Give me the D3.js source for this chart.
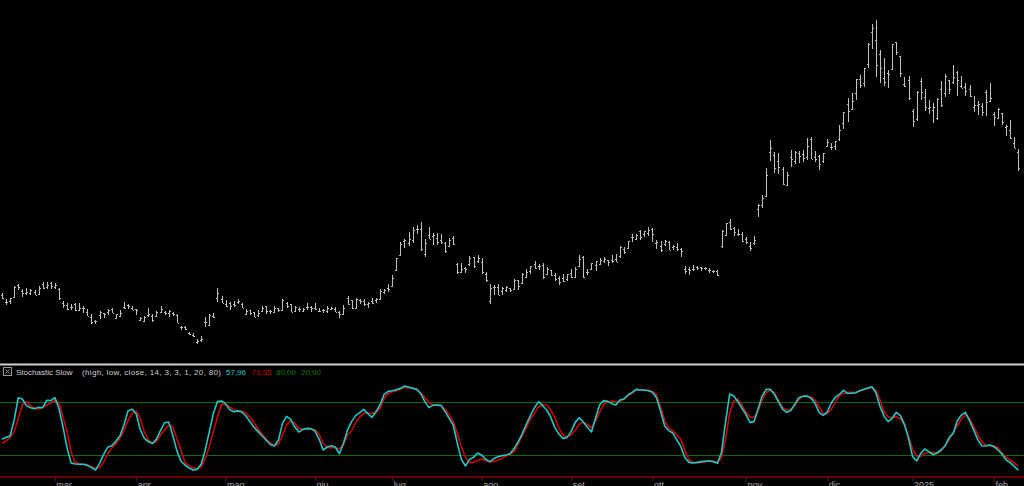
<!DOCTYPE html>
<html><head><meta charset="utf-8">
<script src="https://cdn.jsdelivr.net/npm/d3@7"></script>
<style>html,body{margin:0;padding:0;background:#000;overflow:hidden}svg{display:block}</style>
</head><body><svg id="c" width="1024" height="486"></svg>
<script>
// ---- categories: trading days ----
const firstDay = "2024-02-12", lastDay = "2025-02-11";
const holidays = ["2024-02-19","2024-03-29","2024-05-27","2024-06-19","2024-07-04","2024-09-02","2024-11-28","2024-12-25","2025-01-01","2025-01-09","2025-01-20"];
const monthNamesIt = ["gen","feb","mar","apr","mag","giu","lug","ago","set","ott","nov","dic"];

// ---- OHLC series ----
const openP = [192.1,184.0,185.3,189.2,202.1,196.1,193.4,194.0,195.3,192.3,204.0,200.4,204.2,
200.5,198.7,183.1,181.1,179.0,181.5,175.5,177.8,173.1,167.8,163.2,170.0,172.4,173.0,176.4,166.7,168.8,178.6,181.4,177.5,
176.2,164.8,164.0,170.3,169.1,169.3,172.9,173.0,172.6,172.3,170.2,156.7,157.6,151.2,149.0,140.6,143.3,162.8,159.0,168.9,188.4,187.0,
182.0,182.9,182.1,183.8,182.4,171.6,175.0,173.1,170.0,174.5,179.9,174.1,173.6,177.6,175.5,182.9,181.8,174.8,176.4,174.2,178.6,178.5,
178.1,174.8,175.4,174.6,176.1,176.1,173.9,171.1,188.4,185.8,177.9,186.6,184.7,182.3,185.0,186.5,186.9,195.2,199.6,
201.0,218.9,234.6,249.8,247.7,251.0,262.8,263.3,235.8,256.0,255.3,252.7,251.1,247.8,244.2,253.6,225.4,216.8,221.2,224.9,232.3,227.9,
227.7,214.9,185.2,200.8,200.8,195.7,197.1,199.0,198.5,207.4,205.0,211.2,217.1,224.9,222.7,223.8,214.5,218.8,213.3,209.7,209.8,208.6,
215.3,210.6,223.5,232.6,216.2,220.1,224.6,224.7,228.0,229.3,229.5,230.1,234.0,241.5,242.6,254.1,252.5,260.6,257.4,259.0,
262.7,247.6,244.5,246.7,249.0,243.6,243.8,241.8,220.1,220.1,220.0,221.4,221.6,220.7,218.9,217.3,217.1,244.7,256.0,270.0,264.5,258.0,258.0,
252.0,244.6,247.3,284.7,288.9,299.1,346.3,342.7,335.9,327.7,310.6,340.7,335.8,345.0,343.8,341.1,360.1,341.0,341.8,336.1,
352.4,351.8,353.0,359.9,377.4,397.6,392.7,409.7,424.8,420.0,441.1,475.9,466.5,451.9,425.5,431.0,435.9,465.2,449.5,419.4,423.8,
390.1,381.5,423.2,405.8,393.0,391.4,383.2,414.3,409.9,423.5,421.5,432.6,416.8,416.1,414.5,394.8,396.9,395.2,410.8,401.5,
386.7,382.6,388.0,373.0,370.2,356.2,345.8];
const highP = [194.1,187.3,188.9,200.9,203.2,198.2,199.4,198.3,197.6,201.8,205.6,205.3,205.3,
204.5,199.8,184.7,183.0,181.6,182.7,182.9,179.4,176.1,171.2,165.2,174.7,172.8,176.2,178.2,171.2,175.2,184.2,181.9,179.6,
176.8,167.7,168.8,177.2,170.9,174.5,179.8,174.9,175.9,173.8,170.7,158.2,158.3,152.2,150.9,144.4,147.3,168.0,170.9,172.1,198.9,191.0,
185.9,184.6,184.8,187.6,183.3,176.1,175.6,173.1,175.4,179.5,179.9,175.8,179.6,177.9,186.9,183.8,181.9,180.1,178.3,178.2,182.7,180.3,
182.6,177.8,176.1,179.7,179.3,178.6,174.8,180.6,191.1,186.0,188.8,187.2,187.2,184.0,188.8,188.5,197.8,198.7,203.2,
213.2,231.3,248.4,252.4,259.4,265.6,267.6,271.0,251.8,265.6,258.6,258.5,257.1,249.4,253.2,255.8,226.0,226.0,222.3,234.3,232.4,234.7,
231.9,216.1,203.9,202.9,203.5,200.7,200.9,199.3,208.5,208.4,215.9,219.8,223.0,228.2,224.7,226.0,221.5,219.1,215.7,211.8,214.9,214.6,
219.9,222.2,235.0,233.6,219.9,226.4,228.5,231.5,232.7,230.0,234.6,235.7,244.2,244.0,250.0,257.2,257.1,261.8,260.7,264.9,
264.0,251.2,249.8,251.0,249.8,246.2,247.4,242.8,223.3,221.9,224.3,222.8,222.1,222.3,220.5,218.2,218.7,262.1,269.5,273.5,265.0,263.4,259.8,
254.0,248.9,255.3,289.6,299.8,328.7,358.6,345.8,344.6,330.0,324.7,348.5,347.4,346.6,348.0,361.5,361.9,347.0,342.6,345.5,
360.0,355.7,358.1,375.4,389.5,404.8,409.7,424.9,429.3,436.3,463.2,484.0,488.5,456.4,447.1,434.5,462.8,465.3,450.0,427.0,427.9,
392.7,411.9,426.4,414.3,402.5,399.3,403.8,422.6,429.8,424.0,439.7,433.2,428.0,420.7,418.9,406.7,400.6,398.6,412.5,420.0,
389.2,394.0,388.4,375.4,380.6,362.7,349.4];
const lowP = [187.6,180.8,182.3,188.9,197.4,189.9,191.9,191.4,191.5,192.0,198.3,198.4,198.4,
198.5,186.7,177.6,175.2,175.6,174.7,174.2,172.4,169.2,160.5,160.7,165.9,167.4,170.3,171.8,166.3,168.7,177.0,176.1,175.3,
170.2,163.4,163.3,168.0,163.1,168.2,172.3,170.0,168.5,169.4,161.4,153.8,153.8,148.7,146.2,138.8,141.1,157.5,159.0,166.4,184.5,182.7,
179.0,176.0,178.4,182.2,177.4,170.5,170.0,167.8,168.2,174.1,171.2,171.4,173.3,173.8,174.7,178.1,173.3,173.7,173.2,173.9,175.4,173.9,
175.3,174.0,172.1,172.7,175.2,173.2,167.4,169.8,181.2,176.9,177.0,182.4,179.7,178.2,182.2,182.6,186.4,192.6,195.3,
200.9,218.1,234.3,242.0,244.6,247.6,257.9,239.7,233.1,251.7,245.8,246.2,247.1,236.8,243.8,245.6,214.7,216.2,215.3,223.1,220.4,226.6,
214.3,205.8,182.0,192.1,191.5,192.0,195.3,194.7,197.1,197.0,204.8,210.8,214.1,219.6,218.9,209.4,214.2,212.1,206.9,202.6,206.0,207.0,
209.6,210.6,222.3,210.5,213.7,218.6,217.1,223.8,226.3,223.5,226.6,226.9,232.1,235.9,241.9,249.1,252.3,251.5,254.1,255.8,
248.5,241.5,237.8,244.6,240.7,240.6,239.5,232.3,214.4,213.7,217.1,218.9,217.9,219.2,215.7,215.3,212.1,242.7,255.3,262.2,255.5,255.8,249.3,
246.6,238.9,246.2,275.6,285.5,297.7,336.0,323.3,322.5,310.4,309.2,330.0,332.7,334.3,335.3,337.2,338.2,335.7,326.6,334.7,
351.2,348.2,348.6,357.5,370.8,378.0,390.9,402.4,415.0,415.7,436.2,457.5,427.0,420.0,417.6,415.4,435.1,451.0,426.5,415.8,402.5,
373.0,379.5,401.7,390.0,387.4,377.3,380.1,394.5,405.7,409.1,419.8,406.3,414.6,407.0,405.7,389.0,386.5,384.5,384.4,401.3,
374.4,381.4,375.4,363.2,360.3,350.5,325.1];
const closeP = [188.1,184.0,188.7,200.5,200.0,193.8,194.8,197.4,192.0,199.4,199.7,202.0,201.9,
202.6,188.1,180.7,176.5,178.7,175.3,177.8,177.5,169.5,162.5,163.6,173.8,171.3,175.7,172.8,170.8,172.6,177.7,179.8,175.8,
175.2,166.6,168.4,171.1,164.9,173.0,176.9,171.8,174.6,171.1,161.5,157.1,155.5,149.9,147.1,142.1,144.7,162.1,170.2,168.3,194.1,183.3,
180.0,180.0,181.2,184.8,177.8,174.7,172.0,168.5,171.9,177.6,174.0,174.8,177.5,175.0,186.6,180.1,173.7,179.2,176.8,176.2,178.8,178.1,
176.3,174.8,175.0,177.9,177.5,173.8,170.7,177.3,182.5,178.0,187.4,184.9,181.6,183.0,182.6,187.4,196.4,197.4,197.9,
209.9,231.3,246.4,251.5,252.4,262.3,263.3,241.0,248.2,252.6,256.6,248.5,249.2,239.2,251.5,246.4,216.0,220.3,219.8,232.1,222.6,232.1,
216.9,207.7,198.9,200.6,191.8,198.8,200.0,197.5,207.8,201.4,214.1,216.1,222.7,221.1,223.3,210.7,220.3,213.2,209.2,205.8,206.3,214.1,
210.6,219.4,230.2,210.7,216.3,226.2,228.1,229.8,230.3,226.8,227.9,227.2,243.9,238.3,250.0,254.3,257.0,254.2,260.5,261.6,
258.0,249.0,240.7,250.1,240.8,244.5,241.1,238.8,217.8,219.2,219.6,221.3,220.9,220.7,218.9,218.0,213.7,260.5,269.2,262.5,259.5,257.6,249.9,
249.0,242.8,251.4,288.5,296.9,321.2,350.0,328.5,330.2,311.2,320.7,338.7,346.0,342.0,339.6,352.6,338.6,338.2,332.9,345.2,
357.1,351.4,357.9,369.5,389.2,389.8,401.0,424.8,418.1,436.2,463.0,479.9,440.1,436.2,421.1,430.6,462.3,454.1,431.7,417.4,403.8,
379.3,410.4,411.1,394.4,394.9,394.7,403.3,396.4,428.2,413.8,426.5,424.1,415.1,412.4,406.6,397.2,398.1,389.1,400.3,404.6,
383.7,392.2,378.2,374.3,361.6,350.7,328.5];

// ---- Stochastic Slow %K and %D ----
const stochK = [37.8,40,41.6,59.7,85,83.5,76,73.6,72.5,74,
73.6,82,81.6,85,73,52,28.3,11,9.9,9.5,
9.5,8.3,5.7,3,10.6,20.8,28.7,30.6,35.5,41.6,
54,70,72,66.8,49,39,35,33,38,48,
56.6,57.4,42.7,25.3,13.2,8.7,5.3,3,3.8,9.5,
25.7,46.5,67.2,80.5,81.2,78.2,71.4,69.1,70,68.7,
64.2,57.8,51.4,46.5,41.6,36.7,32,30.2,37,55.9,
63.8,60.4,52,46,49,50.2,49.9,47.2,38.1,25.7,
29.1,30.6,29.1,21.5,33.3,48.4,
57.8,64.6,68,71.7,66.9,62.7,69.1,76.7,88.8,92.1,
92.9,94,95.5,98.2,97,95.5,94.8,89.5,80.8,73.7,
76.3,76.7,76.3,69.1,61.6,54,33.6,15.1,7.6,15.1,
17.4,22.3,20,15.1,12.5,15.9,18.2,19.3,20,21.5,
27.6,35.1,44.2,55.1,65,73.7,80.4,75.9,71,62.7,
51,43.8,38.9,40,46.5,57,62.3,57.4,51.4,46.1,
61.6,76.7,81.6,80.8,78.2,76.7,82.4,83.5,88,91,
94.4,93.6,93.6,92.9,91,85,69.9,53.2,47.6,45,
37,29.5,17,
11.7,11,11.7,12.5,12.9,13.3,12.5,10.6,23.1,57.8,
89.1,86.9,80.4,73.3,66.1,57,57.8,72.5,86.8,94.4,
94.4,88.8,80.4,72.1,68.4,70.2,77.4,85,86.5,86.8,
84.2,78.6,68.4,65,68.7,78.9,85.4,88.8,93.3,89.9,
89.9,90.6,92.9,94.4,95.9,97.4,90.2,74.8,63.8,57.8,
61.9,68.4,64.6,54.8,38.9,18.2,13.3,21.9,26.8,23.8,
20.4,22.3,25.7,30.2,40,44.6,58.9,65.3,68.4,58.9,
48.7,37.8,30.6,30.2,31.4,29.5,25.7,21.1,14.4,11.4,
7.2,3];
const stochD = [33.3,35.9,40,46.5,61.6,76.7,80.4,75.9,73.3,72.1,
74,76.3,78.9,81.6,79.7,63.4,46.5,23.8,11.7,9.9,
9.5,9.1,6.8,5.3,5.7,11.7,21.5,27.6,32.9,38.9,
48,59,67.2,69.9,61.6,46.5,37,33.6,35.1,42.7,
48.4,54,52,38.9,25.7,11.7,7.9,5.7,4.2,6.4,
16.3,29.5,46.5,63.4,77.4,77.4,74.4,71.4,70.3,69.5,
67.6,63,56.6,49.5,43.5,38.1,33.6,30.6,32.5,42.7,
54,59.3,55.9,50.2,49.5,49.5,49.5,48.4,43.8,33.3,
28.7,28.3,28.3,26.8,32.1,42.7,
47.2,57,63,67.2,67.6,67.2,68,72.9,83.9,89.5,
91.8,92.9,94.8,96.3,96.3,95.5,93.6,90.6,85,79.7,
76.7,76.7,75.5,72.1,65.7,57.8,44.6,29.5,17.4,11.4,
11.7,14,15.5,13.6,12.1,12.8,14,16.3,18.9,20.8,
23.8,33.3,42.3,51,60.8,67.2,74.8,76.7,76.7,71,
62.3,50.2,42.7,40.8,42.7,48,55.1,57,54.7,51,
58.5,68.4,77.4,79.7,81.2,80.4,80.8,83.5,87.2,90.2,
93.3,93.6,93.6,93.3,92.1,88.4,74,59.7,50.2,47.6,
42.7,37.8,25,
14.7,11.7,11,11.7,12.5,13.3,12.9,11.7,17.4,38.9,
67.2,81.2,83.1,76.7,68.7,63,62.7,69.9,82.7,90.6,
93.3,90.6,82,74,71,71.7,75.9,82.7,86.5,86.8,
85.7,82.3,74.4,67.2,67.2,72.1,80,87.2,89.9,91,
91,91.4,92.5,94,95.5,96.3,93.3,82.3,69.1,63.4,
62.3,63.4,61.2,54,40.8,26.8,18.9,18.5,21.9,23.1,
23.1,21.9,24.5,31.7,37.4,45.7,53.2,60.8,65.3,61.6,
52.5,43.4,35.1,31.4,30.6,30.6,28.3,21.9,17.4,14.4,
11,7.5];
const stochLevels = [80, 20];
const legendTitle = "Stochastic Slow";
const legendParams = "(high, low, close, 14, 3, 3, 1, 20, 80)";
const legendValues = ["57,96", "71,35", "80,00", "20,00"];

// ---- build trading-day categories ----
const parse = d3.utcParse("%Y-%m-%d"), fmt = d3.utcFormat("%Y-%m-%d");
const hol = new Set(holidays);
const dates = d3.utcDays(parse(firstDay), d3.utcDay.offset(parse(lastDay), 1))
  .filter(d => d.getUTCDay() !== 0 && d.getUTCDay() !== 6 && !hol.has(fmt(d)))
  .map(fmt);
const bars = dates.map((d, i) => ({date: d, o: openP[i], h: highP[i], l: lowP[i], c: closeP[i]}));
const monthStarts = dates.filter((d, i) => i > 0 && d.slice(0, 7) !== dates[i - 1].slice(0, 7));

// ---- layout ----
const W = 1024, H = 486;
const svg = d3.select("#c");
svg.append("rect").attr("width", W).attr("height", H).attr("fill", "#000");

const x = d3.scalePoint().domain(dates).range([2, 1018.3]);
const yP = d3.scaleLinear().domain([119.4, 510.1]).range([362, 0]);
const yS = d3.scaleLinear().domain([0, 100]).range([472.7, 384.4]);

// price OHLC bars
const barColor = "#c0c0c0";
const gB = svg.append("g").attr("stroke", barColor).attr("stroke-width", 1).attr("shape-rendering", "crispEdges");
bars.forEach(b => {
  const cx = Math.round(x(b.date)) + 0.5;
  gB.append("line").attr("x1", cx).attr("x2", cx).attr("y1", yP(b.h)).attr("y2", yP(b.l));
  gB.append("line").attr("x1", cx - 1.5).attr("x2", cx).attr("y1", Math.round(yP(b.o)) + 0.5).attr("y2", Math.round(yP(b.o)) + 0.5);
  gB.append("line").attr("x1", cx).attr("x2", cx + 1.5).attr("y1", Math.round(yP(b.c)) + 0.5).attr("y2", Math.round(yP(b.c)) + 0.5);
});

// separator
svg.append("rect").attr("x", 0).attr("y", 363.5).attr("width", W).attr("height", 2).attr("fill", "#cfcfcf");

// level lines
svg.append("g").selectAll("line").data(stochLevels).join("line")
  .attr("x1", 0).attr("x2", W)
  .attr("y1", d => Math.round(yS(d)) + 0.5).attr("y2", d => Math.round(yS(d)) + 0.5)
  .attr("stroke", "#0a6a0a").attr("stroke-width", 1);

// stochastic lines
const line = d3.line().x((d, i) => x(dates[i])).y(d => yS(d));
svg.append("path").datum(stochD).attr("d", line).attr("fill", "none")
  .attr("stroke", "#d00000").attr("stroke-width", 1.6).attr("stroke-linejoin", "round");
svg.append("path").datum(stochK).attr("d", line).attr("fill", "none")
  .attr("stroke", "#1ec8c8").attr("stroke-width", 1.6).attr("stroke-linejoin", "round");

// bottom axis
const axisY = 477;
svg.append("line").attr("x1", 0).attr("x2", W).attr("y1", axisY).attr("y2", axisY)
  .attr("stroke", "#8c0000").attr("stroke-width", 1.5);
const axis = d3.axisBottom(x).tickValues(monthStarts).tickSize(4)
  .tickFormat(d => { const m = +d.slice(5, 7) - 1; return m === 0 ? d.slice(0, 4) : monthNamesIt[m]; });
const gA = svg.append("g").attr("transform", `translate(0,${axisY})`).call(axis);
gA.select(".domain").remove();
gA.selectAll(".tick line").attr("stroke", "#8c0000");
gA.selectAll(".tick text").attr("fill", "#a8a8a8").attr("font-family", "Liberation Sans, Arial, sans-serif")
  .attr("font-size", 9).attr("text-anchor", "start").attr("x", 1).attr("y", 10.5).attr("dy", 0);

// legend
const lg = svg.append("g").attr("font-family", "Liberation Sans, Arial, sans-serif").attr("font-size", 8);
lg.append("rect").attr("x", 3.5).attr("y", 367.5).attr("width", 8).attr("height", 8)
  .attr("fill", "none").attr("stroke", "#9a9a9a");
lg.append("path").attr("d", "M5.5,369.5L9.5,373.5M9.5,369.5L5.5,373.5").attr("stroke", "#9a9a9a");
lg.append("text").attr("x", 16).attr("y", 375).attr("fill", "#d0d0d0").text(legendTitle);
lg.append("text").attr("x", 82).attr("y", 375).attr("fill", "#d0d0d0")
  .attr("textLength", 139).attr("lengthAdjust", "spacing").text(legendParams);
const valColors = ["#1ec8c8", "#d00000", "#0a7a0a", "#0a7a0a"];
const valX = [226, 251.5, 276, 301];
legendValues.forEach((v, i) => lg.append("text").attr("x", valX[i]).attr("y", 375).attr("fill", valColors[i]).text(v));
</script>
</body></html>
